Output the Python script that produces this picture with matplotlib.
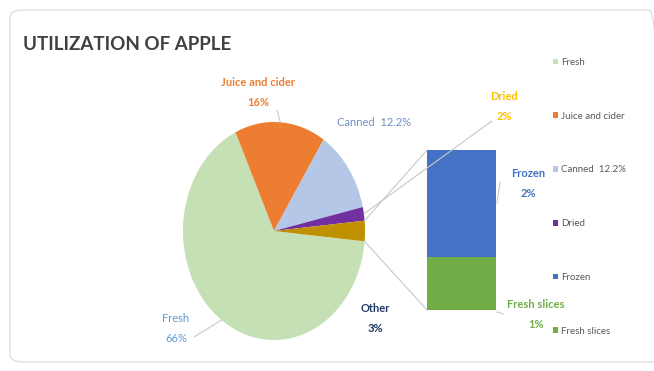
import matplotlib
matplotlib.use("Agg")
import matplotlib.pyplot as plt
from matplotlib.patches import ConnectionPatch, FancyBboxPatch, Patch
import numpy as np

plt.rcParams['font.family'] = ['Lato', 'DejaVu Sans']

# ---------------- data ----------------
title = "UTILIZATION OF APPLE"
pie_names = ["Fresh", "Juice and cider", "Canned", "Dried", "Other"]
pie_values = [66, 16, 12.2, 2, 3]
pie_value_text = ["66%", "16%", "12.2%", "2%", "3%"]
bar_names = ["Frozen", "Fresh slices"]
bar_values = [2, 1]
bar_value_text = ["2%", "1%"]
legend_labels = ["Fresh", "Juice and cider", "Canned  12.2%", "Dried", "Frozen", "Fresh slices"]

pie_colors = ["#C5E0B4", "#ED7D31", "#B4C7E7", "#7030A0", "#BF9000"]
bar_colors = ["#4472C4", "#70AD47"]
legend_colors = pie_colors[:4] + bar_colors

W, H = 654, 371
fig = plt.figure(figsize=(W / 100, H / 100), dpi=100)
fig.patch.set_facecolor("white")

def fx(px):
    return px / W

def fy(py):
    return 1 - py / H

# border
border = FancyBboxPatch((fx(10), fy(362)), fx(662) - fx(10), fy(10) - fy(362),
                        boxstyle="round,pad=0,rounding_size=0.02",
                        transform=fig.transFigure, facecolor="none",
                        edgecolor="#D9D9D9", linewidth=0.8, zorder=-1)
fig.patches.append(border)

# title
fig.text(fx(23), fy(45), title, fontsize=13.5, color="#404040",
         ha="left", va="center", fontweight="bold")

# ---------------- pie ----------------
cx, cy, rx, ry = 274, 231, 91, 109
ax = fig.add_axes([fx(cx - rx), fy(cy + ry), 2 * rx / W, 2 * ry / H])
total = sum(pie_values)
other_angle = 360 * pie_values[-1] / total
start = -other_angle / 2
ax.pie(pie_values, colors=pie_colors, startangle=start, counterclock=False,
       radius=1, wedgeprops=dict(linewidth=0))
ax.set_aspect("auto")
ax.set_xlim(-1, 1)
ax.set_ylim(-1, 1)
ax.axis("off")

# wedge angles (clockwise from start)
edges = [start]
for v in pie_values:
    edges.append(edges[-1] - 360 * v / total)
mids = [(edges[i] + edges[i + 1]) / 2 for i in range(len(pie_values))]

def rim(angle, r=1.0):
    a = np.deg2rad(angle)
    return (r * np.cos(a), r * np.sin(a))

# ---------------- bar ----------------
bx0, bx1, by0, by1 = 427, 496, 150, 310
bax = fig.add_axes([fx(bx0), fy(by1), (bx1 - bx0) / W, (by1 - by0) / H])
bottom = 0
for name, val, col in zip(reversed(bar_names), reversed(bar_values), reversed(bar_colors)):
    bax.bar([0], [val], bottom=bottom, width=1.0, color=col, linewidth=0)
    bottom += val
bax.set_xlim(-0.5, 0.5)
bax.set_ylim(0, sum(bar_values))
bax.axis("off")

line_col = "#C8C8C8"
# connectors pie -> bar
for ang, ybar in [(edges[-2], sum(bar_values)), (edges[-1], 0)]:
    con = ConnectionPatch(xyA=rim(ang), coordsA=ax.transData,
                          xyB=(-0.5, ybar), coordsB=bax.transData,
                          color=line_col, linewidth=0.8)
    fig.add_artist(con)

# leader lines
def leader(angle, px, py, r=1.0):
    con = ConnectionPatch(xyA=rim(angle, r), coordsA=ax.transData,
                          xyB=(fx(px), fy(py)), coordsB=fig.transFigure,
                          color=line_col, linewidth=0.8)
    fig.add_artist(con)

leader(mids[0], 194, 337)   # Fresh
leader(mids[1], 277, 110)   # Juice
leader(mids[3], 492, 121)   # Dried

# bar leaders
fig.add_artist(plt.Line2D([fx(497), fx(500)], [fy(203), fy(182)],
                          transform=fig.transFigure, color=line_col, lw=0.8))
fig.add_artist(plt.Line2D([fx(497), fx(503)], [fy(312), fy(314)],
                          transform=fig.transFigure, color=line_col, lw=0.8))

# ---------------- labels ----------------
def label(px, py, txt, color, bold=True, size=8):
    fig.text(fx(px), fy(py), txt, fontsize=size, color=color,
             ha="center", va="center", linespacing=2.0,
             fontweight="bold" if bold else "normal")

label(258, 93, pie_names[1] + "\n" + pie_value_text[1], "#ED7D31")
label(374, 123, pie_names[2] + "  " + pie_value_text[2], "#6F8FC7", bold=False)
label(504, 107, pie_names[3] + "\n" + pie_value_text[3], "#FFC000")
label(375, 318, pie_names[4] + "\n" + pie_value_text[4], "#1F3864")
label(176, 328, pie_names[0] + "\n" + pie_value_text[0], "#5B9BD5", bold=False)
label(528, 183, bar_names[0] + "\n" + bar_value_text[0], "#4472C4")
label(536, 314, bar_names[1] + "\n" + bar_value_text[1], "#70AD47")

# ---------------- legend ----------------
handles = [Patch(facecolor=c, edgecolor="none") for c in legend_colors]
leg = fig.legend(handles, legend_labels, loc="upper left",
                 bbox_to_anchor=(fx(553), fy(58)), frameon=False,
                 fontsize=7, labelcolor="#595959", handlelength=0.55,
                 handleheight=0.55, handletextpad=0.3, labelspacing=4.6,
                 borderpad=0, borderaxespad=0)

fig.savefig("out.png", dpi=100, facecolor="white")
